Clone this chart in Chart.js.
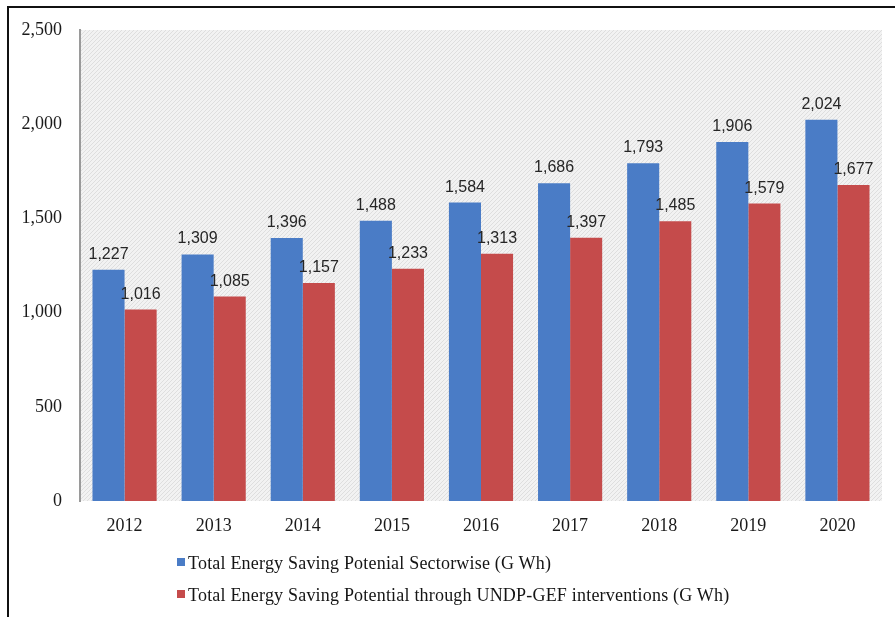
<!DOCTYPE html>
<html>
<head>
<meta charset="utf-8">
<script src="https://cdn.jsdelivr.net/npm/chart.js@4.4.1/dist/chart.umd.min.js"></script>
<style>
    html, body { margin: 0; padding: 0; background: #fff; }
    #wrap { position: relative; width: 895px; height: 617px; overflow: hidden; }
    #frame {
        position: absolute; left: 7px; top: 6px; right: -4px; bottom: -4px;
        border-top: 2px solid #111; border-left: 2px solid #111;
    }
    #legend {
        position: absolute; left: 177px; top: 552px;
        font-family: "Liberation Serif", "Times New Roman", serif;
        font-size: 18px; letter-spacing: 0.2px; color: #151515;
    }
    #legend .row { height: 32px; line-height: 22px; white-space: nowrap; }
    #legend .box { display: inline-block; width: 8px; height: 8px; margin-right: 3px; vertical-align: 3px; }
</style>
</head>
<body>
<div id="wrap">
    <canvas id="energyChart" width="895" height="617"></canvas>
    <div id="frame"></div>
    <div id="legend"></div>
</div>
<script>
// Data
const years = ['2012', '2013', '2014', '2015', '2016', '2017', '2018', '2019', '2020'];
const sectorwise = [1227, 1309, 1396, 1488, 1584, 1686, 1793, 1906, 2024];
const undpGef = [1016, 1085, 1157, 1233, 1313, 1397, 1485, 1579, 1677];
const seriesNames = [
    'Total Energy Saving Potenial Sectorwise (G Wh)',
    'Total Energy Saving Potential through UNDP-GEF interventions (G Wh)'
];
const seriesColors = ['#4a7cc6', '#c54b4b'];
const yTicks = [0, 500, 1000, 1500, 2000, 2500];

const fmt = v => v.toLocaleString('en-US');

// light diagonal hatch behind the bars
function makeHatch(ctx) {
    const c = document.createElement('canvas');
    c.width = 4; c.height = 4;
    const p = c.getContext('2d');
    p.fillStyle = '#f2f2f2';
    p.fillRect(0, 0, 4, 4);
    p.strokeStyle = '#dedede';
    p.lineWidth = 1;
    p.beginPath();
    p.moveTo(0, 4); p.lineTo(4, 0);
    p.moveTo(-1, 1); p.lineTo(1, -1);
    p.moveTo(3, 5); p.lineTo(5, 3);
    p.stroke();
    return ctx.createPattern(c, 'repeat');
}

const hatchBackground = {
    id: 'hatchBackground',
    beforeDraw(chart) {
        const { ctx, chartArea: a } = chart;
        ctx.save();
        ctx.fillStyle = makeHatch(ctx);
        ctx.fillRect(a.left, a.top, a.right - a.left, a.bottom - a.top);
        ctx.restore();
    }
};

const valueLabels = {
    id: 'valueLabels',
    afterDatasetsDraw(chart) {
        const ctx = chart.ctx;
        ctx.save();
        ctx.font = '16px "Liberation Sans", Arial, sans-serif';
        ctx.fillStyle = '#262626';
        ctx.textAlign = 'center';
        ctx.textBaseline = 'alphabetic';
        chart.data.datasets.forEach((ds, i) => {
            chart.getDatasetMeta(i).data.forEach((bar, j) => {
                ctx.fillText(fmt(ds.data[j]), bar.x, bar.y - 11);
            });
        });
        ctx.restore();
    }
};

new Chart(document.getElementById('energyChart'), {
    type: 'bar',
    data: {
        labels: years,
        datasets: [
            { label: seriesNames[0], data: sectorwise, backgroundColor: seriesColors[0] },
            { label: seriesNames[1], data: undpGef, backgroundColor: seriesColors[1] }
        ]
    },
    options: {
        responsive: false,
        animation: false,
        events: [],
        layout: { padding: { top: 30, right: 13, left: 0, bottom: 0 } },
        datasets: {
            bar: { barPercentage: 1, categoryPercentage: 0.72 }
        },
        scales: {
            x: {
                grid: { display: false },
                border: { display: false },
                ticks: {
                    color: '#1a1a1a',
                    padding: 6,
                    font: { family: '"Liberation Serif", "Times New Roman", serif', size: 18 }
                },
                afterFit(s) { s.height = 116; }
            },
            y: {
                min: 0,
                max: 2500,
                grid: { display: false },
                border: { display: true, color: '#9a9a9a', width: 2 },
                afterBuildTicks(s) { s.ticks = yTicks.map(v => ({ value: v })); },
                ticks: {
                    color: '#1a1a1a',
                    padding: 10,
                    font: { family: '"Liberation Serif", "Times New Roman", serif', size: 18 },
                    callback: v => fmt(v)
                },
                afterFit(s) { s.width = 80; }
            }
        },
        plugins: {
            legend: { display: false },
            tooltip: { enabled: false }
        }
    },
    plugins: [hatchBackground, valueLabels]
});

// legend as real text below the chart
const legend = document.getElementById('legend');
seriesNames.forEach((name, i) => {
    const row = document.createElement('div');
    row.className = 'row';
    const box = document.createElement('span');
    box.className = 'box';
    box.style.background = seriesColors[i];
    row.appendChild(box);
    row.appendChild(document.createTextNode(name));
    legend.appendChild(row);
});
</script>
</body>
</html>
